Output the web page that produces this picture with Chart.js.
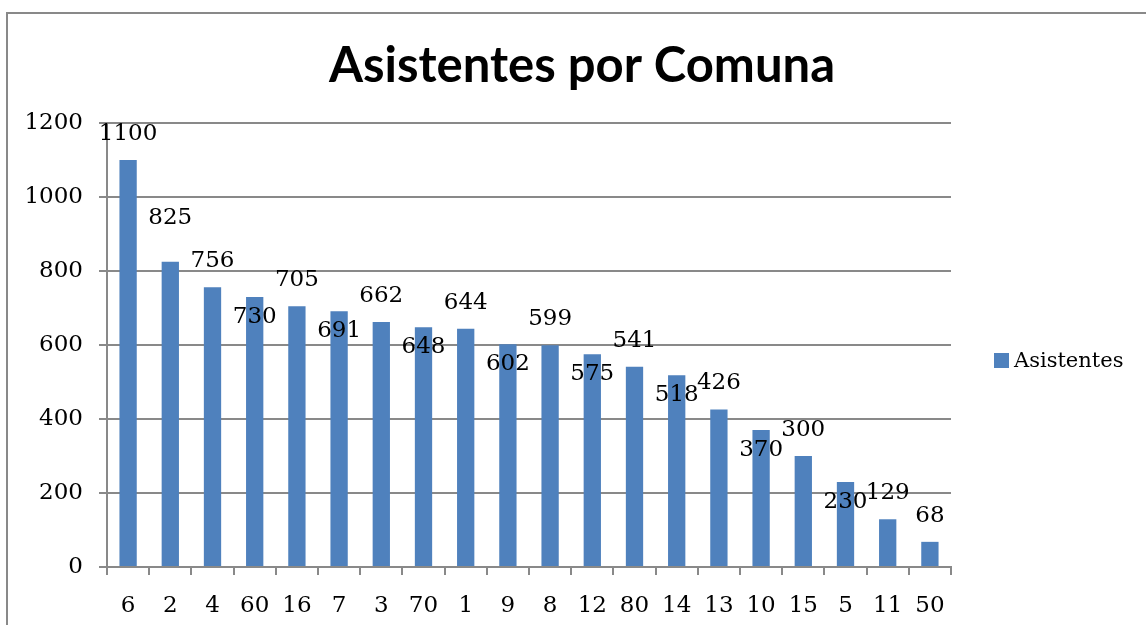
<!DOCTYPE html>
<html>
<head>
<meta charset="utf-8">
<script src="https://cdn.jsdelivr.net/npm/chart.js@4"></script>
<style>
  body { margin: 0; background: #fff; overflow: hidden; }
  #frame { position: absolute; left: 6px; top: 12px; width: 1200px; height: 700px;
           border-left: 2px solid #898989; border-top: 2px solid #898989; }
  #chart { position: absolute; left: 0; top: 0; }
</style>
</head>
<body>
<div id="frame"></div>
<canvas id="chart" width="1146" height="625"></canvas>
<script>
const comunas = ['6', '2', '4', '60', '16', '7', '3', '70', '1', '9', '8', '12', '80', '14', '13', '10', '15', '5', '11', '50'];
const asistentes = [1100, 825, 756, 730, 705, 691, 662, 648, 644, 602, 599, 575, 541, 518, 426, 370, 300, 230, 129, 68];
const yTicks = [0, 200, 400, 600, 800, 1000, 1200];

const serif = '"DejaVu Serif", serif';

// etiquetas de valor, con el desplazamiento que hace Excel para que no se pisen
const valueLabels = {
    id: 'valueLabels',
    afterDatasetsDraw(chart, args, opts) {
        const ctx = chart.ctx;
        const meta = chart.getDatasetMeta(0);
        ctx.save();
        ctx.font = '23px ' + serif;
        ctx.fillStyle = '#000';
        ctx.textAlign = 'center';
        ctx.textBaseline = 'middle';
        meta.data.forEach((bar, i) => {
            let dy = -26;
            if (opts.raised.includes(i)) dy = -44;
            if (opts.lowered.includes(i)) dy = 20;
            ctx.fillText(String(asistentes[i]), bar.x, bar.y + dy);
        });
        ctx.restore();
    }
};

const titleAndLegend = {
    id: 'titleAndLegend',
    afterDraw(chart) {
        const ctx = chart.ctx;
        ctx.save();
        ctx.fillStyle = '#000';
        ctx.font = 'bold 49px Lato, sans-serif';
        ctx.textAlign = 'center';
        ctx.textBaseline = 'alphabetic';
        ctx.fillText('Asistentes por Comuna', 582, 82);

        ctx.fillStyle = '#4f81bd';
        ctx.fillRect(994, 353, 15, 15);
        ctx.fillStyle = '#000';
        ctx.font = '21px ' + serif;
        ctx.textAlign = 'left';
        ctx.textBaseline = 'middle';
        ctx.fillText('Asistentes', 1014, 362);
        ctx.restore();
    }
};

new Chart(document.getElementById('chart'), {
    type: 'bar',
    data: {
        labels: comunas,
        datasets: [{
            label: 'Asistentes',
            data: asistentes,
            backgroundColor: '#4f81bd',
            categoryPercentage: 1,
            barPercentage: 0.41
        }]
    },
    options: {
        responsive: false,
        animation: false,
        layout: { padding: { top: 123, right: 195, left: 0, bottom: 0 } },
        plugins: {
            legend: { display: false },
            title: { display: false },
            tooltip: { enabled: false },
            valueLabels: { raised: [1], lowered: [3, 5, 7, 9, 11, 13, 15, 17] }
        },
        scales: {
            x: {
                afterFit(scale) { scale.height = 58; },
                grid: { offset: true, drawOnChartArea: false, color: '#898989', lineWidth: 2, tickLength: 8 },
                border: { color: '#898989', width: 2 },
                ticks: { color: '#000', font: { family: serif, size: 23 }, padding: 17, maxRotation: 0 }
            },
            y: {
                min: 0,
                max: 1200,
                afterFit(scale) { scale.width = 107; },
                afterBuildTicks(scale) { scale.ticks = yTicks.map(v => ({ value: v })); },
                grid: { color: '#898989', lineWidth: 2, tickLength: 8 },
                border: { color: '#898989', width: 2 },
                ticks: { color: '#000', font: { family: serif, size: 23 }, padding: 16, callback: v => String(v) }
            }
        }
    },
    plugins: [valueLabels, titleAndLegend]
});
</script>
</body>
</html>
